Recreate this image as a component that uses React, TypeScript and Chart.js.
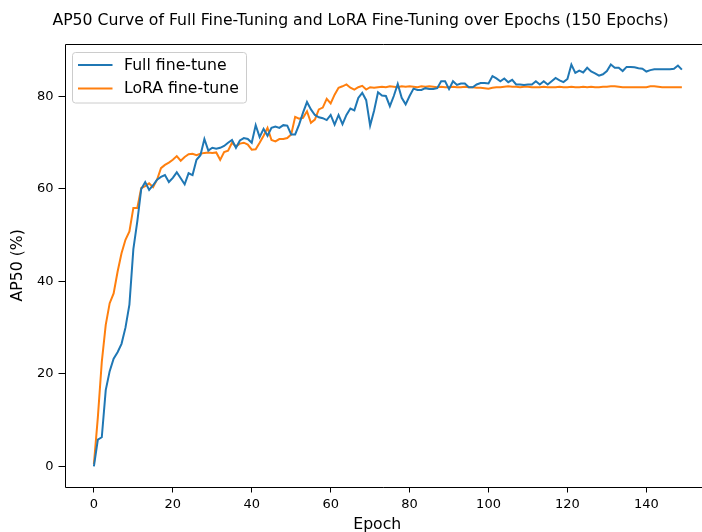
import React, { useEffect, useRef } from "react";
import { Chart, registerables } from "chart.js";

Chart.register(...registerables);

const epochs: number[] = Array.from({ length: 150 }, (_, i) => i);

const fullFineTune: number[] = [
  0, 5.8, 6.3, 16.5, 20.6, 23.3, 24.7, 26.5, 30, 35,
  47, 53, 60, 61.5, 59.8, 60.8, 62, 62.6, 63, 61.5,
  62.4, 63.6, 62.3, 61, 63.4, 63, 66.3, 67.3, 70.8, 68.3,
  68.9, 68.7, 68.9, 69.3, 70, 70.6, 68.9, 70.5, 71, 70.8,
  70, 73.8, 71.2, 73, 71.5, 73.2, 73.5, 73.2, 73.8, 73.7,
  71.8, 71.8, 73.9, 76.5, 78.8, 77.2, 76, 75.5, 75.3, 74.9,
  76, 73.9, 76, 74, 76, 77.4, 77, 79.7, 80.8, 79.2,
  73.7, 76.9, 80.9, 80.2, 80.1, 77.9, 80.1, 82.7, 79.7, 78.3,
  80.1, 81.7, 81.4, 81.4, 81.8, 81.6, 81.6, 81.8, 83.3, 83.3,
  81.6, 83.3, 82.5, 82.8, 82.8, 82, 82, 82.6, 82.9, 82.9,
  82.8, 84.4, 83.9, 83.3, 83.9, 83.1, 83.6, 82.6, 82.6, 82.5,
  82.6, 82.6, 83.3, 82.6, 83.3, 82.6, 83.3, 84, 83.5, 83.1,
  83.8, 86.9, 85.1, 85.6, 85.2, 86.2, 85.4, 85, 84.5, 84.8,
  85.5, 86.9, 86.2, 86.2, 85.5, 86.4, 86.4, 86.3, 86.1, 86,
  85.4, 85.7, 85.9, 85.9, 85.9, 85.9, 85.9, 86, 86.7, 85.8,
];

const loraFineTune: number[] = [
  0.5, 10.6, 22.6, 30.6, 35.3, 37.4, 42.1, 46.1, 49, 50.8,
  55.9, 55.9, 60.2, 60.6, 61.2, 60.4, 62, 64.5, 65.2, 65.7,
  66.3, 67.1, 66.1, 66.9, 67.5, 67.6, 67.3, 67.6, 67.8, 67.9,
  67.8, 67.9, 66.3, 68, 68.3, 70, 69.2, 69.8, 70, 69.6,
  68.5, 68.6, 70, 71.5, 73.2, 70.6, 70.3, 70.8, 70.8, 71,
  71.8, 75.6, 75.2, 75.4, 76.8, 74.3, 75, 77.2, 77.6, 79.5,
  78.5, 80.4, 81.9, 82.2, 82.6, 81.9, 81.5, 82, 82.3, 81.5,
  82, 81.9, 82, 82.1, 82, 82.2, 82.1, 82, 82.2, 82.1,
  82.2, 82.1, 82, 82.2, 82.1, 82.2, 82.1, 82, 82.1, 82,
  82, 82.1, 82, 82, 82.1, 82, 82, 81.9, 81.9, 81.8,
  81.7, 81.9, 82, 82, 82.1, 82.2, 82.1, 82.1, 82, 82.1,
  82.1, 82, 82, 82, 82.1, 82, 82, 82, 82.1, 82,
  82, 82.1, 82, 82, 82.1, 82, 82.1, 82, 82, 82.1,
  82.1, 82.2, 82.2, 82.1, 82, 82, 82, 82, 82, 82,
  82, 82.2, 82.2, 82.1, 82, 82, 82, 82, 82, 82,
];

const xTicks: number[] = [0, 20, 40, 60, 80, 100, 120, 140];
const yTicks: number[] = [0, 20, 40, 60, 80];

const seriesNames = ["Full fine-tune", "LoRA fine-tune"];
const seriesColors = ["#1f77b4", "#ff7f0e"];
const titleText =
  "AP50 Curve of Full Fine-Tuning and LoRA Fine-Tuning over Epochs (150 Epochs)";

const FONT = "'DejaVu Sans', 'Liberation Sans', sans-serif";
const BIG = 15.7;

const decorPlugin = {
  id: "decor",
  afterDraw(chart: any) {
    const ctx = chart.ctx as CanvasRenderingContext2D;
    const a = chart.chartArea;
    ctx.save();
    const L = Math.round(a.left) + 0.5;
    const T = Math.round(a.top) + 0.5;
    const B = Math.round(a.bottom) + 0.5;
    ctx.strokeStyle = "#000";
    ctx.lineWidth = 1;
    ctx.beginPath();
    ctx.moveTo(L, B);
    ctx.lineTo(L, T);
    ctx.lineTo(chart.width, T);
    ctx.moveTo(L, B);
    ctx.lineTo(chart.width, B);
    ctx.stroke();
    ctx.fillStyle = "#000";
    ctx.font = `${BIG}px ${FONT}`;
    ctx.textAlign = "center";
    ctx.textBaseline = "middle";
    ctx.fillText(titleText, 360.5, 20.5);
    const bx = 72.5, by = 52.5, bw = 174, bh = 50.5;
    ctx.beginPath();
    (ctx as any).roundRect(bx, by, bw, bh, 3);
    ctx.fillStyle = "rgba(255,255,255,0.8)";
    ctx.fill();
    ctx.strokeStyle = "#cccccc";
    ctx.lineWidth = 1;
    ctx.stroke();
    const rows = [65, 88.5];
    seriesNames.forEach((name, i) => {
      ctx.strokeStyle = seriesColors[i];
      ctx.lineWidth = 2;
      ctx.beginPath();
      ctx.moveTo(78, rows[i]);
      ctx.lineTo(112.5, rows[i]);
      ctx.stroke();
      ctx.fillStyle = "#000";
      ctx.font = `${BIG}px ${FONT}`;
      ctx.textAlign = "left";
      ctx.textBaseline = "middle";
      ctx.fillText(name, 124, rows[i] + 0.5);
    });
    ctx.restore();
  },
};

export default function App() {
  const ref = useRef<HTMLCanvasElement | null>(null);

  useEffect(() => {
    if (!ref.current) return;
    const chart = new Chart(ref.current, {
      type: "line",
      data: {
        datasets: [
          {
            label: seriesNames[0],
            data: epochs.map((e, i) => ({ x: e, y: fullFineTune[i] })),
            borderColor: seriesColors[0],
            backgroundColor: seriesColors[0],
            borderWidth: 2,
            pointRadius: 0,
            tension: 0,
          },
          {
            label: seriesNames[1],
            data: epochs.map((e, i) => ({ x: e, y: loraFineTune[i] })),
            borderColor: seriesColors[1],
            backgroundColor: seriesColors[1],
            borderWidth: 2,
            pointRadius: 0,
            tension: 0,
          },
        ],
      },
      options: {
        animation: false,
        responsive: false,
        devicePixelRatio: 1,
        layout: { padding: { left: 0, right: 12, top: 44, bottom: 0 } },
        plugins: {
          legend: { display: false },
          title: { display: false },
          tooltip: { enabled: false },
        },
        scales: {
          x: {
            type: "linear",
            min: -7.45,
            max: 151.06,
            afterBuildTicks: (s: any) => {
              s.ticks = xTicks.map((v) => ({ value: v }));
            },
            afterFit: (s: any) => {
              s.height = 45.5;
            },
            border: { display: false },
            grid: {
              display: true,
              drawOnChartArea: false,
              drawTicks: true,
              tickLength: 6,
              tickColor: "#000",
              lineWidth: 1,
            },
            ticks: {
              autoSkip: false,
              maxRotation: 0,
              padding: 4,
              color: "#000",
              font: { family: FONT, size: 13 },
            },
            title: {
              display: true,
              text: "Epoch",
              color: "#000",
              font: { family: FONT, size: BIG, lineHeight: 1 },
              padding: { top: 0, bottom: -1 },
            },
          },
          y: {
            type: "linear",
            min: -4.35,
            max: 91.35,
            afterBuildTicks: (s: any) => {
              s.ticks = yTicks.map((v) => ({ value: v }));
            },
            afterFit: (s: any) => {
              s.width = 64.5;
            },
            border: { display: false },
            grid: {
              display: true,
              drawOnChartArea: false,
              drawTicks: true,
              tickLength: 6,
              tickColor: "#000",
              lineWidth: 1,
            },
            ticks: {
              autoSkip: false,
              padding: 5,
              color: "#000",
              font: { family: FONT, size: 13 },
            },
            title: {
              display: true,
              text: "AP50 (%)",
              color: "#000",
              font: { family: FONT, size: BIG, lineHeight: 1 },
              padding: { top: 10, bottom: 0 },
            },
          },
        },
      },
      plugins: [decorPlugin],
    });
    return () => chart.destroy();
  }, []);

  return (
    <div
      style={{
        position: "fixed",
        left: 0,
        top: 0,
        width: 702,
        height: 532,
        overflow: "hidden",
        background: "#fff",
      }}
    >
      <canvas
        ref={ref}
        width={702}
        height={532}
        style={{ width: 702, height: 532, display: "block" }}
      />
    </div>
  );
}
